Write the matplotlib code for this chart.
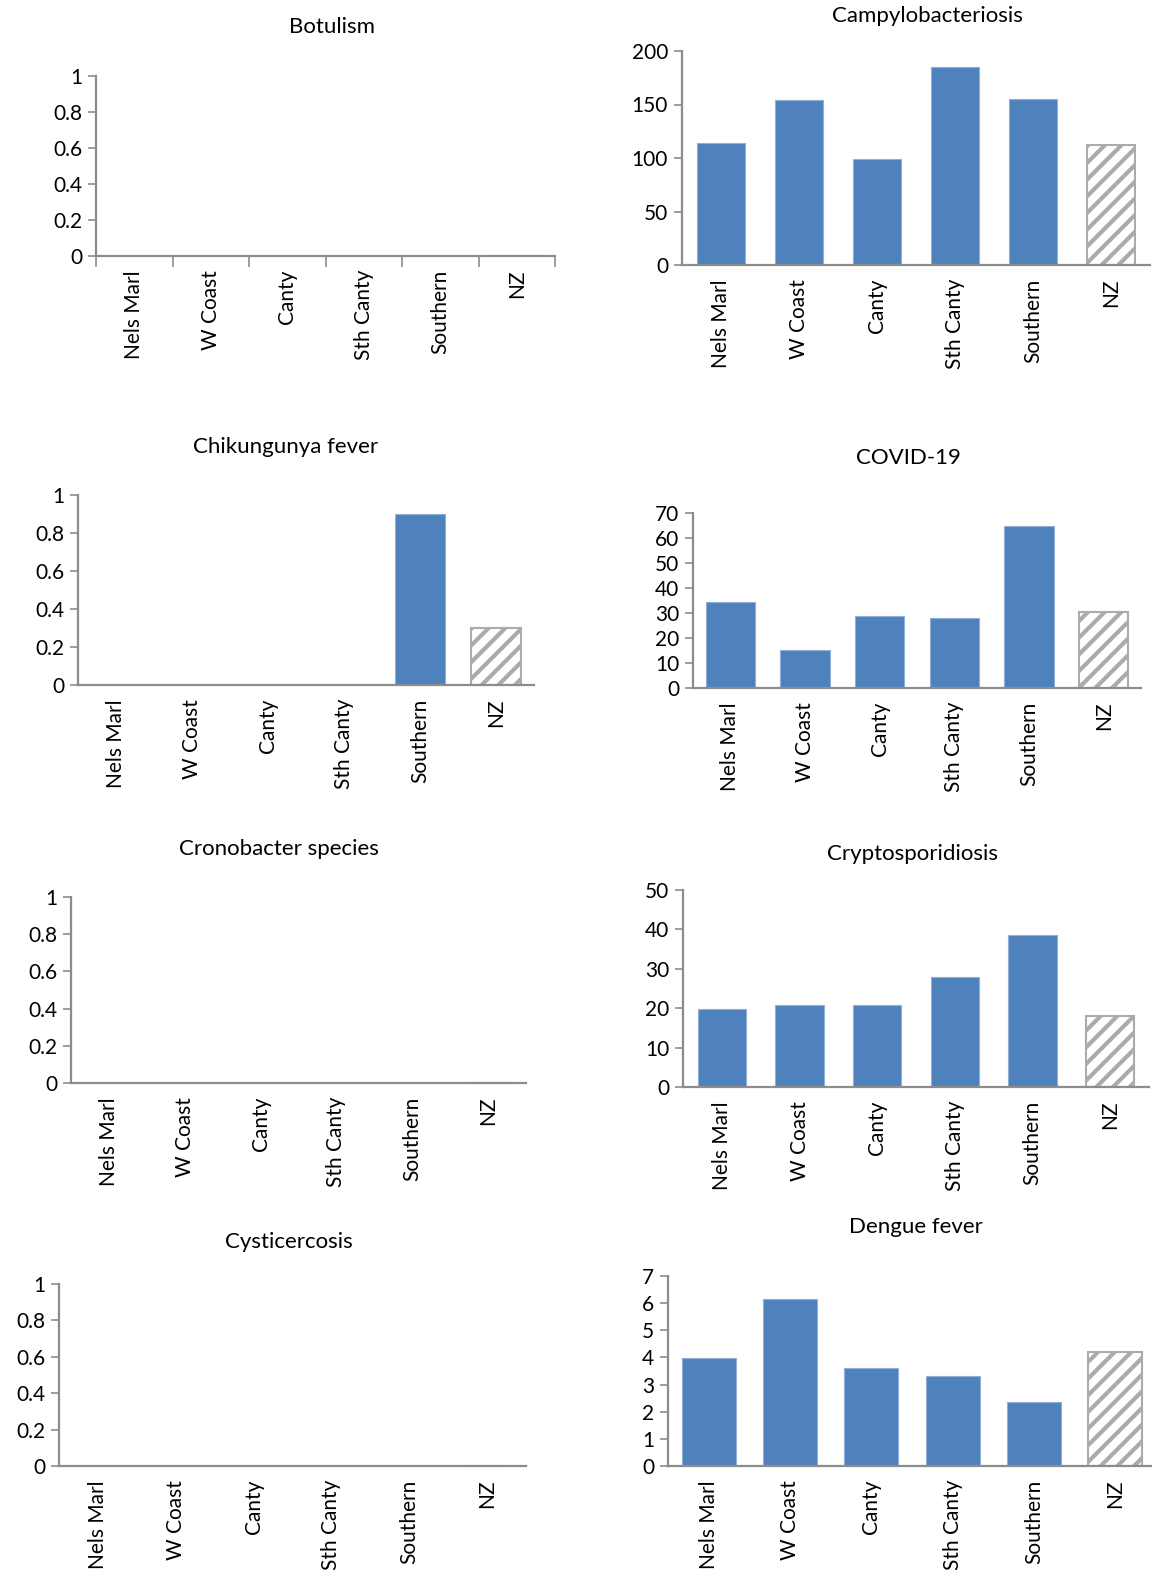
import matplotlib
matplotlib.use("Agg")
import matplotlib.pyplot as plt
import numpy as np

plt.rcParams['font.family'] = ['Lato', 'DejaVu Sans']
plt.rcParams['hatch.linewidth'] = 3.0

categories = ["Nels Marl", "W Coast", "Canty", "Sth Canty", "Southern", "NZ"]

botulism = [0, 0, 0, 0, 0, 0]
campylobacteriosis = [114, 154, 99, 185, 155, 112]
chikungunya = [0, 0, 0, 0, 0.9, 0.3]
covid19 = [34.5, 15.4, 29.0, 28.2, 64.8, 30.3]
cronobacter = [0, 0, 0, 0, 0, 0]
cryptosporidiosis = [19.8, 20.8, 20.8, 27.9, 38.5, 18.1]
cysticercosis = [0, 0, 0, 0, 0, 0]
dengue = [3.99, 6.14, 3.62, 3.33, 2.37, 4.19]

titles = ["Botulism", "Campylobacteriosis", "Chikungunya fever", "COVID-19",
          "Cronobacter species", "Cryptosporidiosis", "Cysticercosis", "Dengue fever"]
series = [botulism, campylobacteriosis, chikungunya, covid19,
          cronobacter, cryptosporidiosis, cysticercosis, dengue]
ymax = [1, 200, 1, 70, 1, 50, 1, 7]
ystep = [0.2, 50, 0.2, 10, 0.2, 10, 0.2, 1]

W, H = 1152, 1573
# (left, right, top, bottom) in pixels, title centre (x, y), bar width
layout = [
    (96, 555, 76, 256, (332, 27), 0.62),
    (682, 1150, 51, 265, (927, 16), 0.62),
    (78, 534, 495, 685, (286, 447), 0.66),
    (693, 1141, 513, 688, (908, 458), 0.66),
    (71, 526, 897, 1083, (279, 849), 0.62),
    (683, 1149, 890, 1087, (913, 854), 0.62),
    (59, 526, 1284, 1466, (289, 1242), 0.62),
    (668, 1156, 1276, 1466, (916, 1227), 0.66),
]

fig = plt.figure(figsize=(W / 100, H / 100), dpi=100)
axis_col = "#8c8c8c"
blue = "#4f81bd"
fs = 15

for i, (title, vals, ym, st, lay) in enumerate(zip(titles, series, ymax, ystep, layout)):
    L, R, T, B, (tx, ty), bw = lay
    ax = fig.add_axes([L / W, 1 - B / H, (R - L) / W, (B - T) / H])
    x = np.arange(len(categories))
    ax.bar(x[:-1], vals[:-1], width=bw, color=blue, edgecolor="#8fb0d8",
           linewidth=0.8, zorder=1)
    ax.bar(x[-1:], vals[-1:], width=bw, color="white", edgecolor="#ababab",
           hatch="//", linewidth=1.5, zorder=1)
    ax.set_xlim(-0.5, len(categories) - 0.5)
    ax.set_ylim(0, ym)
    ax.set_yticks(np.arange(0, ym + st / 2, st))
    if st < 1:
        ax.set_yticklabels([("%g" % v) for v in np.arange(0, ym + st / 2, st)])
    ax.set_xticks(x)
    ax.set_xticklabels(categories, rotation=90, fontsize=fs, va="top", ha="center")
    for sp in ["top", "right"]:
        ax.spines[sp].set_visible(False)
    for sp in ["left", "bottom"]:
        ax.spines[sp].set_color(axis_col)
        ax.spines[sp].set_linewidth(1.6)
        ax.spines[sp].set_zorder(3)
    ax.tick_params(axis="y", direction="out", length=6, width=1.2, color=axis_col,
                   labelsize=fs, pad=4)
    ax.tick_params(axis="x", length=0, pad=10)
    if i == 0:
        ax.set_xticks(np.arange(-0.5, len(categories)), minor=True)
        ax.tick_params(axis="x", which="minor", direction="out", length=8,
                       width=1.2, color=axis_col)
    ax.patch.set_alpha(0)
    fig.text(tx / W, 1 - ty / H, title, ha="center", va="center", fontsize=16)

fig.savefig("out.png", dpi=100)
